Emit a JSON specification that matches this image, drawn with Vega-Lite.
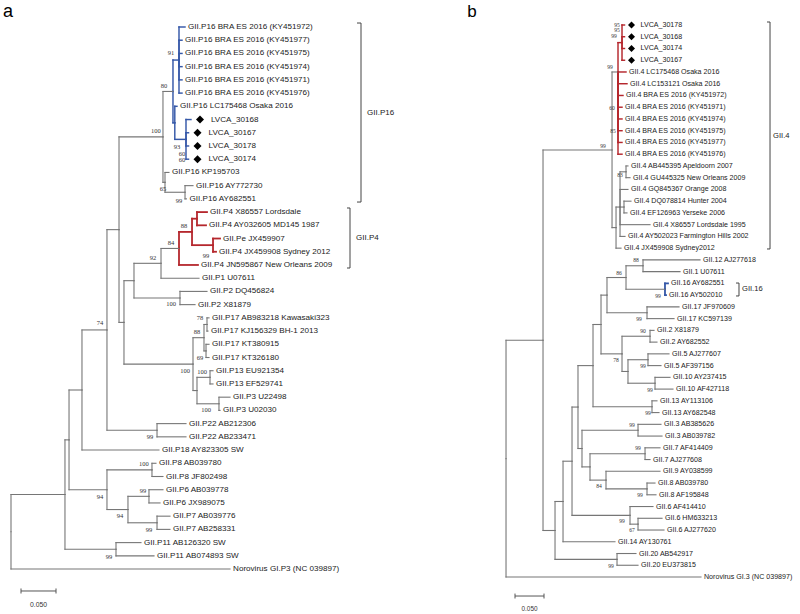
{
"$schema": "https://vega.github.io/schema/vega-lite/v6.json",
"padding": 0,
"spacing": 0,
"bounds": "flush",
"background": "white",
"config": {"view": {"stroke": null}},
"resolve": {"scale": {"x": "independent", "y": "independent", "color": "independent", "strokeWidth": "independent"}},
"datasets": {
"a_edges": [
{"px":0,"py":39.182,"x":0.0771,"y":36.364,"grp":"other"},
{"px":0,"py":39.182,"x":0.3129,"y":42,"grp":"other","label":"Norovirus GI.P3 (NC 039897)"},
{"px":0.0771,"py":36.364,"x":0.0829,"y":32.229,"grp":"other"},
{"px":0.0771,"py":36.364,"x":0.15,"y":40.5,"grp":"other"},
{"px":0.0829,"py":32.229,"x":0.1014,"y":28.457,"grp":"other"},
{"px":0.0829,"py":32.229,"x":0.1371,"y":36,"grp":"other"},
{"px":0.1014,"py":28.457,"x":0.1371,"y":23.914,"grp":"other"},
{"px":0.1014,"py":28.457,"x":0.2114,"y":33,"grp":"other","label":"GII.P18 AY823305 SW"},
{"px":0.1371,"py":23.914,"x":0.1543,"y":16.328,"grp":"other"},
{"px":0.1371,"py":23.914,"x":0.2086,"y":31.5,"grp":"other"},
{"px":0.1543,"py":16.328,"x":0.2171,"y":9.313,"grp":"other"},
{"px":0.1543,"py":16.328,"x":0.1614,"y":23.344,"grp":"other"},
{"px":0.2171,"py":9.313,"x":0.2314,"y":5.875,"grp":"other"},
{"px":0.2171,"py":9.313,"x":0.22,"y":12.75,"grp":"other"},
{"px":0.2314,"py":5.875,"x":0.24,"y":3.5,"grp":"P16"},
{"px":0.2314,"py":5.875,"x":0.234,"y":8.25,"grp":"P16"},
{"px":0.24,"py":3.5,"x":0.2486,"y":1,"grp":"P16","label":"GII.P16 BRA ES 2016 (KY451972)"},
{"px":0.24,"py":3.5,"x":0.2443,"y":2,"grp":"P16","label":"GII.P16 BRA ES 2016 (KY451977)"},
{"px":0.24,"py":3.5,"x":0.2443,"y":3,"grp":"P16","label":"GII.P16 BRA ES 2016 (KY451975)"},
{"px":0.24,"py":3.5,"x":0.2443,"y":4,"grp":"P16","label":"GII.P16 BRA ES 2016 (KY451974)"},
{"px":0.24,"py":3.5,"x":0.2443,"y":5,"grp":"P16","label":"GII.P16 BRA ES 2016 (KY451971)"},
{"px":0.24,"py":3.5,"x":0.2443,"y":6,"grp":"P16","label":"GII.P16 BRA ES 2016 (KY451976)"},
{"px":0.234,"py":8.25,"x":0.2371,"y":7,"grp":"P16","label":"GII.P16 LC175468 Osaka 2016"},
{"px":0.234,"py":8.25,"x":0.25,"y":9.5,"grp":"P16"},
{"px":0.25,"py":9.5,"x":0.2571,"y":8,"grp":"P16","label":"LVCA_30168"},
{"px":0.25,"py":9.5,"x":0.2536,"y":9,"grp":"P16","label":"LVCA_30167"},
{"px":0.25,"py":9.5,"x":0.2536,"y":10,"grp":"P16","label":"LVCA_30178"},
{"px":0.25,"py":9.5,"x":0.2536,"y":11,"grp":"P16","label":"LVCA_30174"},
{"px":0.22,"py":12.75,"x":0.2257,"y":12,"grp":"other","label":"GII.P16 KP195703"},
{"px":0.22,"py":12.75,"x":0.2486,"y":13.5,"grp":"other"},
{"px":0.2486,"py":13.5,"x":0.26,"y":13,"grp":"other","label":"GII.P16 AY772730"},
{"px":0.2486,"py":13.5,"x":0.2507,"y":14,"grp":"other","label":"GII.P16 AY682551"},
{"px":0.1614,"py":23.344,"x":0.1757,"y":20.188,"grp":"other"},
{"px":0.1614,"py":23.344,"x":0.26,"y":26.5,"grp":"other"},
{"px":0.1757,"py":20.188,"x":0.2143,"y":18.875,"grp":"other"},
{"px":0.1757,"py":20.188,"x":0.2414,"y":21.5,"grp":"other"},
{"px":0.2143,"py":18.875,"x":0.24,"y":17.75,"grp":"other"},
{"px":0.2143,"py":18.875,"x":0.2686,"y":20,"grp":"other","label":"GII.P1 U07611"},
{"px":0.24,"py":17.75,"x":0.2586,"y":16.5,"grp":"P4"},
{"px":0.24,"py":17.75,"x":0.2671,"y":19,"grp":"P4","label":"GII.P4 JN595867 New Orleans 2009"},
{"px":0.2586,"py":16.5,"x":0.2657,"y":15.5,"grp":"P4"},
{"px":0.2586,"py":16.5,"x":0.2886,"y":17.5,"grp":"P4"},
{"px":0.2657,"py":15.5,"x":0.28,"y":15,"grp":"P4","label":"GII.P4 X86557 Lordsdale"},
{"px":0.2657,"py":15.5,"x":0.2786,"y":16,"grp":"P4","label":"GII.P4 AY032605 MD145 1987"},
{"px":0.2886,"py":17.5,"x":0.2986,"y":17,"grp":"P4","label":"GII.Pe JX459907"},
{"px":0.2886,"py":17.5,"x":0.2929,"y":18,"grp":"P4","label":"GII.P4 JX459908 Sydney 2012"},
{"px":0.2414,"py":21.5,"x":0.28,"y":21,"grp":"other","label":"GII.P2 DQ456824"},
{"px":0.2414,"py":21.5,"x":0.2629,"y":22,"grp":"other","label":"GII.P2 X81879"},
{"px":0.26,"py":26.5,"x":0.2757,"y":24.5,"grp":"other"},
{"px":0.26,"py":26.5,"x":0.2657,"y":28.5,"grp":"other"},
{"px":0.2757,"py":24.5,"x":0.28,"y":23.5,"grp":"other"},
{"px":0.2757,"py":24.5,"x":0.2786,"y":25.5,"grp":"other"},
{"px":0.28,"py":23.5,"x":0.2829,"y":23,"grp":"other","label":"GII.P17 AB983218 Kawasaki323"},
{"px":0.28,"py":23.5,"x":0.2814,"y":24,"grp":"other","label":"GII.P17 KJ156329 BH-1 2013"},
{"px":0.2786,"py":25.5,"x":0.2829,"y":25,"grp":"other","label":"GII.P17 KT380915"},
{"px":0.2786,"py":25.5,"x":0.2829,"y":26,"grp":"other","label":"GII.P17 KT326180"},
{"px":0.2657,"py":28.5,"x":0.2843,"y":27.5,"grp":"other"},
{"px":0.2657,"py":28.5,"x":0.2971,"y":29.5,"grp":"other"},
{"px":0.2843,"py":27.5,"x":0.2886,"y":27,"grp":"other","label":"GII.P13 EU921354"},
{"px":0.2843,"py":27.5,"x":0.2886,"y":28,"grp":"other","label":"GII.P13 EF529741"},
{"px":0.2971,"py":29.5,"x":0.3129,"y":29,"grp":"other","label":"GII.P3 U22498"},
{"px":0.2971,"py":29.5,"x":0.2986,"y":30,"grp":"other","label":"GII.P3 U02030"},
{"px":0.2086,"py":31.5,"x":0.25,"y":31,"grp":"other","label":"GII.P22 AB212306"},
{"px":0.2086,"py":31.5,"x":0.25,"y":32,"grp":"other","label":"GII.P22 AB233471"},
{"px":0.1371,"py":36,"x":0.2014,"y":34.5,"grp":"other"},
{"px":0.1371,"py":36,"x":0.1671,"y":37.5,"grp":"other"},
{"px":0.2014,"py":34.5,"x":0.2071,"y":34,"grp":"other","label":"GII.P8 AB039780"},
{"px":0.2014,"py":34.5,"x":0.2171,"y":35,"grp":"other","label":"GII.P8 JF802498"},
{"px":0.1671,"py":37.5,"x":0.1971,"y":36.5,"grp":"other"},
{"px":0.1671,"py":37.5,"x":0.2086,"y":38.5,"grp":"other"},
{"px":0.1971,"py":36.5,"x":0.2171,"y":36,"grp":"other","label":"GII.P6 AB039778"},
{"px":0.1971,"py":36.5,"x":0.2129,"y":37,"grp":"other","label":"GII.P6 JX989075"},
{"px":0.2086,"py":38.5,"x":0.2271,"y":38,"grp":"other","label":"GII.P7 AB039776"},
{"px":0.2086,"py":38.5,"x":0.2271,"y":39,"grp":"other","label":"GII.P7 AB258331"},
{"px":0.15,"py":40.5,"x":0.1857,"y":40,"grp":"other","label":"GII.P11 AB126320 SW"},
{"px":0.15,"py":40.5,"x":0.2043,"y":41,"grp":"other","label":"GII.P11 AB074893 SW"}
],
"a_bs": [
{"x":0.2286,"y":2.97,"v":"91"},{"x":0.2186,"y":5.46,"v":"80"},{"x":0.2071,"y":8.87,"v":"100"},
{"x":0.2371,"y":10.08,"v":"93"},{"x":0.2443,"y":10.61,"v":"60"},{"x":0.2443,"y":11.06,"v":"60"},
{"x":0.2171,"y":13.25,"v":"65"},{"x":0.24,"y":14.16,"v":"99"},{"x":0.2471,"y":16.05,"v":"88"},
{"x":0.2286,"y":17.34,"v":"84"},{"x":0.2786,"y":18.32,"v":"99"},{"x":0.2029,"y":18.47,"v":"92"},
{"x":0.2286,"y":21.95,"v":"100"},{"x":0.27,"y":23.01,"v":"78"},{"x":0.2657,"y":24.07,"v":"88"},
{"x":0.27,"y":26.04,"v":"69"},{"x":0.2486,"y":27.02,"v":"100"},{"x":0.2729,"y":27.1,"v":"100"},
{"x":0.2786,"y":29.97,"v":"100"},{"x":0.1271,"y":23.39,"v":"74"},{"x":0.1986,"y":32.01,"v":"99"},
{"x":0.19,"y":34.06,"v":"100"},{"x":0.1271,"y":36.55,"v":"94"},{"x":0.1886,"y":36.1,"v":"99"},
{"x":0.1557,"y":37.99,"v":"94"},{"x":0.1971,"y":39.05,"v":"99"},{"x":0.14,"y":41.09,"v":"99"}
],
"a_br": [
{"name":"GII.P16","x":0.5,"tick":0.4943,"top":0.7,"bottom":14.24,"mid":7.47},
{"name":"GII.P4","x":0.4843,"tick":0.48,"top":14.69,"bottom":19.23,"mid":16.96}
],
"a_sb": [{"x0":0.0143,"x1":0.0643,"y":43.66,"ylo":43.47,"yhi":43.85,"lx":0.0393,"ly":44.72,"label":"0.050"}],
"a_letter": [{"x":-0.0043,"y":-0.135,"t":"a"}],
"b_edges": [
{"px":0,"py":37.92,"x":0.0638,"y":27.84,"grp":"other"},
{"px":0,"py":37.92,"x":0.3362,"y":48,"grp":"other","label":"Norovirus GI.3 (NC 039897)"},
{"px":0.0638,"py":27.84,"x":0.1828,"y":11.64,"grp":"other"},
{"px":0.0638,"py":27.84,"x":0.0845,"y":44.04,"grp":"other"},
{"px":0.1828,"py":11.64,"x":0.1931,"y":5,"grp":"other"},
{"px":0.1828,"py":11.64,"x":0.1897,"y":18.25,"grp":"other"},
{"px":0.1931,"py":5,"x":0.2,"y":2.5,"grp":"GII.4"},
{"px":0.1931,"py":5,"x":0.2069,"y":5,"grp":"GII.4","label":"GII.4 LC175468 Osaka 2016"},
{"px":0.1931,"py":5,"x":0.2086,"y":6,"grp":"GII.4","label":"GII.4 LC153121 Osaka 2016"},
{"px":0.1931,"py":5,"x":0.2017,"y":7,"grp":"GII.4","label":"GII.4 BRA ES 2016 (KY451972)"},
{"px":0.1931,"py":5,"x":0.2,"y":8,"grp":"GII.4","label":"GII.4 BRA ES 2016 (KY451971)"},
{"px":0.1931,"py":5,"x":0.2,"y":9,"grp":"GII.4","label":"GII.4 BRA ES 2016 (KY451974)"},
{"px":0.1931,"py":5,"x":0.2,"y":10,"grp":"GII.4","label":"GII.4 BRA ES 2016 (KY451975)"},
{"px":0.1931,"py":5,"x":0.2,"y":11,"grp":"GII.4","label":"GII.4 BRA ES 2016 (KY451977)"},
{"px":0.1931,"py":5,"x":0.2,"y":12,"grp":"GII.4","label":"GII.4 BRA ES 2016 (KY451976)"},
{"px":0.2,"py":2.5,"x":0.2043,"y":1,"grp":"GII.4","label":"LVCA_30178"},
{"px":0.2,"py":2.5,"x":0.2043,"y":2,"grp":"GII.4","label":"LVCA_30168"},
{"px":0.2,"py":2.5,"x":0.2043,"y":3,"grp":"GII.4","label":"LVCA_30174"},
{"px":0.2,"py":2.5,"x":0.2043,"y":4,"grp":"GII.4","label":"LVCA_30167"},
{"px":0.1897,"py":18.25,"x":0.1966,"y":16.5,"grp":"other"},
{"px":0.1897,"py":18.25,"x":0.1983,"y":20,"grp":"other","label":"GII.4 JX459908 Sydney2012"},
{"px":0.1966,"py":16.5,"x":0.2069,"y":13.5,"grp":"other"},
{"px":0.1966,"py":16.5,"x":0.2103,"y":15,"grp":"other","label":"GII.4 GQ845367 Orange 2008"},
{"px":0.1966,"py":16.5,"x":0.2034,"y":16.5,"grp":"other"},
{"px":0.1966,"py":16.5,"x":0.2483,"y":18,"grp":"other","label":"GII.4 X86557 Lordsdale 1995"},
{"px":0.1966,"py":16.5,"x":0.2052,"y":19,"grp":"other","label":"GII.4 AY502023 Farmington Hills 2002"},
{"px":0.2069,"py":13.5,"x":0.2103,"y":13,"grp":"other","label":"GII.4 AB445395 Apeldoorn 2007"},
{"px":0.2069,"py":13.5,"x":0.2138,"y":14,"grp":"other","label":"GII.4 GU445325 New Orleans 2009"},
{"px":0.2034,"py":16.5,"x":0.2155,"y":16,"grp":"other","label":"GII.4 DQ078814 Hunter 2004"},
{"px":0.2034,"py":16.5,"x":0.2086,"y":17,"grp":"other","label":"GII.4 EF126963 Yerseke 2006"},
{"px":0.0845,"py":44.04,"x":0.0983,"y":41.57,"grp":"other"},
{"px":0.0845,"py":44.04,"x":0.1914,"y":46.5,"grp":"other"},
{"px":0.0983,"py":41.57,"x":0.1138,"y":38.14,"grp":"other"},
{"px":0.0983,"py":41.57,"x":0.1879,"y":45,"grp":"other","label":"GII.14 AY130761"},
{"px":0.1138,"py":38.14,"x":0.1241,"y":33.53,"grp":"other"},
{"px":0.1138,"py":38.14,"x":0.2138,"y":42.75,"grp":"other"},
{"px":0.1241,"py":33.53,"x":0.15,"y":30,"grp":"other"},
{"px":0.1241,"py":33.53,"x":0.131,"y":37.06,"grp":"other"},
{"px":0.15,"py":30,"x":0.1638,"y":26.5,"grp":"other"},
{"px":0.15,"py":30,"x":0.2517,"y":33.5,"grp":"other"},
{"px":0.1638,"py":26.5,"x":0.1741,"y":24,"grp":"other"},
{"px":0.1638,"py":26.5,"x":0.2,"y":29,"grp":"other"},
{"px":0.1741,"py":24,"x":0.2069,"y":22.5,"grp":"other"},
{"px":0.1741,"py":24,"x":0.2431,"y":25.5,"grp":"other"},
{"px":0.2069,"py":22.5,"x":0.2362,"y":21.5,"grp":"other"},
{"px":0.2069,"py":22.5,"x":0.2741,"y":23.5,"grp":"other"},
{"px":0.2362,"py":21.5,"x":0.3345,"y":21,"grp":"other","label":"GII.12 AJ277618"},
{"px":0.2362,"py":21.5,"x":0.3,"y":22,"grp":"other","label":"GII.1 U07611"},
{"px":0.2741,"py":23.5,"x":0.2793,"y":23,"grp":"GII.16","label":"GII.16 AY682551"},
{"px":0.2741,"py":23.5,"x":0.2759,"y":24,"grp":"GII.16","label":"GII.16 AY502010"},
{"px":0.2431,"py":25.5,"x":0.2983,"y":25,"grp":"other","label":"GII.17 JF970609"},
{"px":0.2431,"py":25.5,"x":0.2897,"y":26,"grp":"other","label":"GII.17 KC597139"},
{"px":0.2,"py":29,"x":0.2483,"y":27.5,"grp":"other"},
{"px":0.2,"py":29,"x":0.2103,"y":30.5,"grp":"other"},
{"px":0.2483,"py":27.5,"x":0.2552,"y":27,"grp":"other","label":"GII.2 X81879"},
{"px":0.2483,"py":27.5,"x":0.2603,"y":28,"grp":"other","label":"GII.2 AY682552"},
{"px":0.2103,"py":30.5,"x":0.2448,"y":29.5,"grp":"other"},
{"px":0.2103,"py":30.5,"x":0.2569,"y":31.5,"grp":"other"},
{"px":0.2448,"py":29.5,"x":0.281,"y":29,"grp":"other","label":"GII.5 AJ277607"},
{"px":0.2448,"py":29.5,"x":0.2672,"y":30,"grp":"other","label":"GII.5 AF397156"},
{"px":0.2569,"py":31.5,"x":0.2828,"y":31,"grp":"other","label":"GII.10 AY237415"},
{"px":0.2569,"py":31.5,"x":0.2879,"y":32,"grp":"other","label":"GII.10 AF427118"},
{"px":0.2517,"py":33.5,"x":0.2603,"y":33,"grp":"other","label":"GII.13 AY113106"},
{"px":0.2517,"py":33.5,"x":0.2638,"y":34,"grp":"other","label":"GII.13 AY682548"},
{"px":0.131,"py":37.06,"x":0.2276,"y":35.5,"grp":"other"},
{"px":0.131,"py":37.06,"x":0.1448,"y":38.625,"grp":"other"},
{"px":0.2276,"py":35.5,"x":0.2672,"y":35,"grp":"other","label":"GII.3 AB385626"},
{"px":0.2276,"py":35.5,"x":0.269,"y":36,"grp":"other","label":"GII.3 AB039782"},
{"px":0.1448,"py":38.625,"x":0.2397,"y":37.5,"grp":"other"},
{"px":0.1448,"py":38.625,"x":0.1724,"y":39.75,"grp":"other"},
{"px":0.2397,"py":37.5,"x":0.2655,"y":37,"grp":"other","label":"GII.7 AF414409"},
{"px":0.2397,"py":37.5,"x":0.2483,"y":38,"grp":"other","label":"GII.7 AJ277608"},
{"px":0.1724,"py":39.75,"x":0.2655,"y":39,"grp":"other","label":"GII.9 AY038599"},
{"px":0.1724,"py":39.75,"x":0.2431,"y":40.5,"grp":"other"},
{"px":0.2431,"py":40.5,"x":0.2569,"y":40,"grp":"other","label":"GII.8 AB039780"},
{"px":0.2431,"py":40.5,"x":0.2586,"y":41,"grp":"other","label":"GII.8 AF195848"},
{"px":0.2138,"py":42.75,"x":0.2534,"y":42,"grp":"other","label":"GII.6 AF414410"},
{"px":0.2138,"py":42.75,"x":0.2276,"y":43.5,"grp":"other"},
{"px":0.2276,"py":43.5,"x":0.269,"y":43,"grp":"other","label":"GII.6 HM633213"},
{"px":0.2276,"py":43.5,"x":0.2724,"y":44,"grp":"other","label":"GII.6 AJ277620"},
{"px":0.1914,"py":46.5,"x":0.2241,"y":46,"grp":"other","label":"GII.20 AB542917"},
{"px":0.1914,"py":46.5,"x":0.2276,"y":47,"grp":"other","label":"GII.20 EU373815"}
],
"b_bs": [
{"x":0.1914,"y":1.0,"v":"95"},{"x":0.1914,"y":1.43,"v":"95"},{"x":0.1862,"y":1.94,"v":"99"},
{"x":0.1793,"y":4.58,"v":"99"},{"x":0.1828,"y":8.07,"v":"60"},{"x":0.1845,"y":10.03,"v":"85"},
{"x":0.1672,"y":11.3,"v":"99"},{"x":0.1966,"y":13.77,"v":"83"},{"x":0.2241,"y":21.01,"v":"88"},
{"x":0.1948,"y":22.12,"v":"86"},{"x":0.2621,"y":24.07,"v":"99"},{"x":0.2293,"y":26.03,"v":"99"},
{"x":0.2362,"y":27.05,"v":"90"},{"x":0.1897,"y":29.52,"v":"78"},{"x":0.2362,"y":30.03,"v":"99"},
{"x":0.2483,"y":32.08,"v":"99"},{"x":0.2448,"y":34.04,"v":"99"},{"x":0.2172,"y":35.06,"v":"99"},
{"x":0.2276,"y":37.02,"v":"99"},{"x":0.1603,"y":40.25,"v":"84"},{"x":0.231,"y":41.02,"v":"99"},
{"x":0.2,"y":43.23,"v":"99"},{"x":0.2172,"y":44.0,"v":"67"},{"x":0.181,"y":47.06,"v":"99"}
],
"b_br": [
{"name":"GII.4","x":0.4552,"tick":0.45,"top":0.745,"bottom":20.07,"mid":10.41},
{"name":"GII.16","x":0.4017,"tick":0.3966,"top":22.97,"bottom":24.07,"mid":23.52}
],
"b_sb": [{"x0":0.0155,"x1":0.0655,"y":49.62,"ylo":49.41,"yhi":49.83,"lx":0.0405,"ly":50.72,"label":"0.050"}],
"b_letter": [{"x":-0.0586,"y":-0.107,"t":"b"}]
},
"hconcat": [
{
"width": 400, "height": 614,
"layer": [
{"data": {"name": "a_edges"}, "mark": {"type": "rule", "strokeCap": "square"},
 "encoding": {"x": {"field": "px", "type": "quantitative", "scale": {"domain": [-0.01571, 0.55571], "nice": false, "zero": false}, "axis": null},
  "y": {"field": "py", "type": "quantitative", "scale": {"domain": [-1.042, 45.4], "reverse": true, "nice": false, "zero": false}, "axis": null},
  "y2": {"field": "y"},
  "color": {"field": "grp", "type": "nominal", "scale": {"domain": ["other", "P16", "P4"], "range": ["#767676", "#3558a8", "#b5272d"]}, "legend": null},
  "strokeWidth": {"field": "grp", "type": "ordinal", "scale": {"domain": ["other", "P16", "P4"], "range": [1.1, 1.8, 1.8]}, "legend": null}}},
{"data": {"name": "a_edges"}, "mark": {"type": "rule", "strokeCap": "square"},
 "encoding": {"x": {"field": "px", "type": "quantitative", "scale": {"domain": [-0.01571, 0.55571], "nice": false, "zero": false}, "axis": null},
  "x2": {"field": "x"},
  "y": {"field": "y", "type": "quantitative", "scale": {"domain": [-1.042, 45.4], "reverse": true, "nice": false, "zero": false}, "axis": null},
  "color": {"field": "grp", "type": "nominal", "scale": {"domain": ["other", "P16", "P4"], "range": ["#767676", "#3558a8", "#b5272d"]}, "legend": null},
  "strokeWidth": {"field": "grp", "type": "ordinal", "scale": {"domain": ["other", "P16", "P4"], "range": [1.1, 1.8, 1.8]}, "legend": null}}},
{"data": {"name": "a_edges"}, "transform": [{"filter": "datum.label && indexof(datum.label, 'LVCA') < 0"}],
 "mark": {"type": "text", "align": "left", "baseline": "middle", "dx": 3, "font": "Liberation Sans", "fontSize": 8.1, "color": "#222"},
 "encoding": {"x": {"field": "x", "type": "quantitative", "scale": {"domain": [-0.01571, 0.55571], "nice": false, "zero": false}, "axis": null},
  "y": {"field": "y", "type": "quantitative", "scale": {"domain": [-1.042, 45.4], "reverse": true, "nice": false, "zero": false}, "axis": null},
  "text": {"field": "label"}}},
{"data": {"name": "a_edges"}, "transform": [{"filter": "datum.label && indexof(datum.label, 'LVCA') == 0"}],
 "mark": {"type": "text", "align": "left", "baseline": "middle", "dx": 20, "font": "Liberation Sans", "fontSize": 8.1, "color": "#222"},
 "encoding": {"x": {"field": "x", "type": "quantitative", "scale": {"domain": [-0.01571, 0.55571], "nice": false, "zero": false}, "axis": null},
  "y": {"field": "y", "type": "quantitative", "scale": {"domain": [-1.042, 45.4], "reverse": true, "nice": false, "zero": false}, "axis": null},
  "text": {"field": "label"}}},
{"data": {"name": "a_edges"}, "transform": [{"filter": "datum.label && indexof(datum.label, 'LVCA') == 0"}],
 "mark": {"type": "point", "shape": "diamond", "filled": true, "color": "#000", "opacity": 1, "size": 64, "xOffset": 9},
 "encoding": {"x": {"field": "x", "type": "quantitative", "scale": {"domain": [-0.01571, 0.55571], "nice": false, "zero": false}, "axis": null},
  "y": {"field": "y", "type": "quantitative", "scale": {"domain": [-1.042, 45.4], "reverse": true, "nice": false, "zero": false}, "axis": null}}},
{"data": {"name": "a_bs"},
 "mark": {"type": "text", "align": "center", "baseline": "middle", "font": "Liberation Serif", "fontSize": 6.5, "color": "#333"},
 "encoding": {"x": {"field": "x", "type": "quantitative", "scale": {"domain": [-0.01571, 0.55571], "nice": false, "zero": false}, "axis": null},
  "y": {"field": "y", "type": "quantitative", "scale": {"domain": [-1.042, 45.4], "reverse": true, "nice": false, "zero": false}, "axis": null},
  "text": {"field": "v"}}},
{"data": {"name": "a_br"}, "mark": {"type": "rule", "color": "#444", "strokeWidth": 1},
 "encoding": {"x": {"field": "x", "type": "quantitative", "scale": {"domain": [-0.01571, 0.55571], "nice": false, "zero": false}, "axis": null},
  "y": {"field": "top", "type": "quantitative", "scale": {"domain": [-1.042, 45.4], "reverse": true, "nice": false, "zero": false}, "axis": null},
  "y2": {"field": "bottom"}}},
{"data": {"name": "a_br"}, "mark": {"type": "rule", "color": "#444", "strokeWidth": 1},
 "encoding": {"x": {"field": "tick", "type": "quantitative", "scale": {"domain": [-0.01571, 0.55571], "nice": false, "zero": false}, "axis": null},
  "x2": {"field": "x"},
  "y": {"field": "top", "type": "quantitative", "scale": {"domain": [-1.042, 45.4], "reverse": true, "nice": false, "zero": false}, "axis": null}}},
{"data": {"name": "a_br"}, "mark": {"type": "rule", "color": "#444", "strokeWidth": 1},
 "encoding": {"x": {"field": "tick", "type": "quantitative", "scale": {"domain": [-0.01571, 0.55571], "nice": false, "zero": false}, "axis": null},
  "x2": {"field": "x"},
  "y": {"field": "bottom", "type": "quantitative", "scale": {"domain": [-1.042, 45.4], "reverse": true, "nice": false, "zero": false}, "axis": null}}},
{"data": {"name": "a_br"},
 "mark": {"type": "text", "align": "left", "baseline": "middle", "dx": 6, "font": "Liberation Sans", "fontSize": 8, "color": "#222"},
 "encoding": {"x": {"field": "x", "type": "quantitative", "scale": {"domain": [-0.01571, 0.55571], "nice": false, "zero": false}, "axis": null},
  "y": {"field": "mid", "type": "quantitative", "scale": {"domain": [-1.042, 45.4], "reverse": true, "nice": false, "zero": false}, "axis": null},
  "text": {"field": "name"}}},
{"data": {"name": "a_sb"}, "mark": {"type": "rule", "color": "#555", "strokeWidth": 1},
 "encoding": {"x": {"field": "x0", "type": "quantitative", "scale": {"domain": [-0.01571, 0.55571], "nice": false, "zero": false}, "axis": null},
  "x2": {"field": "x1"},
  "y": {"field": "y", "type": "quantitative", "scale": {"domain": [-1.042, 45.4], "reverse": true, "nice": false, "zero": false}, "axis": null}}},
{"data": {"name": "a_sb"}, "mark": {"type": "rule", "color": "#555", "strokeWidth": 1},
 "encoding": {"x": {"field": "x0", "type": "quantitative", "scale": {"domain": [-0.01571, 0.55571], "nice": false, "zero": false}, "axis": null},
  "y": {"field": "ylo", "type": "quantitative", "scale": {"domain": [-1.042, 45.4], "reverse": true, "nice": false, "zero": false}, "axis": null},
  "y2": {"field": "yhi"}}},
{"data": {"name": "a_sb"}, "mark": {"type": "rule", "color": "#555", "strokeWidth": 1},
 "encoding": {"x": {"field": "x1", "type": "quantitative", "scale": {"domain": [-0.01571, 0.55571], "nice": false, "zero": false}, "axis": null},
  "y": {"field": "ylo", "type": "quantitative", "scale": {"domain": [-1.042, 45.4], "reverse": true, "nice": false, "zero": false}, "axis": null},
  "y2": {"field": "yhi"}}},
{"data": {"name": "a_sb"},
 "mark": {"type": "text", "align": "center", "baseline": "middle", "font": "Liberation Sans", "fontSize": 6.8, "color": "#333"},
 "encoding": {"x": {"field": "lx", "type": "quantitative", "scale": {"domain": [-0.01571, 0.55571], "nice": false, "zero": false}, "axis": null},
  "y": {"field": "ly", "type": "quantitative", "scale": {"domain": [-1.042, 45.4], "reverse": true, "nice": false, "zero": false}, "axis": null},
  "text": {"field": "label"}}},
{"data": {"name": "a_letter"},
 "mark": {"type": "text", "align": "center", "baseline": "middle", "font": "Liberation Sans", "fontSize": 18, "color": "#000"},
 "encoding": {"x": {"field": "x", "type": "quantitative", "scale": {"domain": [-0.01571, 0.55571], "nice": false, "zero": false}, "axis": null},
  "y": {"field": "y", "type": "quantitative", "scale": {"domain": [-1.042, 45.4], "reverse": true, "nice": false, "zero": false}, "axis": null},
  "text": {"field": "t"}}}
]
},
{
"width": 400, "height": 614,
"layer": [
{"data": {"name": "b_edges"}, "mark": {"type": "rule", "strokeCap": "square"},
 "encoding": {"x": {"field": "px", "type": "quantitative", "scale": {"domain": [-0.1828, 0.5069], "nice": false, "zero": false}, "axis": null},
  "y": {"field": "py", "type": "quantitative", "scale": {"domain": [-1.129, 51.15], "reverse": true, "nice": false, "zero": false}, "axis": null},
  "y2": {"field": "y"},
  "color": {"field": "grp", "type": "nominal", "scale": {"domain": ["other", "GII.4", "GII.16"], "range": ["#767676", "#b5272d", "#3558a8"]}, "legend": null},
  "strokeWidth": {"field": "grp", "type": "ordinal", "scale": {"domain": ["other", "GII.4", "GII.16"], "range": [1.1, 1.8, 1.8]}, "legend": null}}},
{"data": {"name": "b_edges"}, "mark": {"type": "rule", "strokeCap": "square"},
 "encoding": {"x": {"field": "px", "type": "quantitative", "scale": {"domain": [-0.1828, 0.5069], "nice": false, "zero": false}, "axis": null},
  "x2": {"field": "x"},
  "y": {"field": "y", "type": "quantitative", "scale": {"domain": [-1.129, 51.15], "reverse": true, "nice": false, "zero": false}, "axis": null},
  "color": {"field": "grp", "type": "nominal", "scale": {"domain": ["other", "GII.4", "GII.16"], "range": ["#767676", "#b5272d", "#3558a8"]}, "legend": null},
  "strokeWidth": {"field": "grp", "type": "ordinal", "scale": {"domain": ["other", "GII.4", "GII.16"], "range": [1.1, 1.8, 1.8]}, "legend": null}}},
{"data": {"name": "b_edges"}, "transform": [{"filter": "datum.label && indexof(datum.label, 'LVCA') < 0"}],
 "mark": {"type": "text", "align": "left", "baseline": "middle", "dx": 3, "font": "Liberation Sans", "fontSize": 7.1, "color": "#222"},
 "encoding": {"x": {"field": "x", "type": "quantitative", "scale": {"domain": [-0.1828, 0.5069], "nice": false, "zero": false}, "axis": null},
  "y": {"field": "y", "type": "quantitative", "scale": {"domain": [-1.129, 51.15], "reverse": true, "nice": false, "zero": false}, "axis": null},
  "text": {"field": "label"}}},
{"data": {"name": "b_edges"}, "transform": [{"filter": "datum.label && indexof(datum.label, 'LVCA') == 0"}],
 "mark": {"type": "text", "align": "left", "baseline": "middle", "dx": 16, "font": "Liberation Sans", "fontSize": 7.1, "color": "#222"},
 "encoding": {"x": {"field": "x", "type": "quantitative", "scale": {"domain": [-0.1828, 0.5069], "nice": false, "zero": false}, "axis": null},
  "y": {"field": "y", "type": "quantitative", "scale": {"domain": [-1.129, 51.15], "reverse": true, "nice": false, "zero": false}, "axis": null},
  "text": {"field": "label"}}},
{"data": {"name": "b_edges"}, "transform": [{"filter": "datum.label && indexof(datum.label, 'LVCA') == 0"}],
 "mark": {"type": "point", "shape": "diamond", "filled": true, "color": "#000", "opacity": 1, "size": 49, "xOffset": 7},
 "encoding": {"x": {"field": "x", "type": "quantitative", "scale": {"domain": [-0.1828, 0.5069], "nice": false, "zero": false}, "axis": null},
  "y": {"field": "y", "type": "quantitative", "scale": {"domain": [-1.129, 51.15], "reverse": true, "nice": false, "zero": false}, "axis": null}}},
{"data": {"name": "b_bs"},
 "mark": {"type": "text", "align": "center", "baseline": "middle", "font": "Liberation Serif", "fontSize": 5.6, "color": "#333"},
 "encoding": {"x": {"field": "x", "type": "quantitative", "scale": {"domain": [-0.1828, 0.5069], "nice": false, "zero": false}, "axis": null},
  "y": {"field": "y", "type": "quantitative", "scale": {"domain": [-1.129, 51.15], "reverse": true, "nice": false, "zero": false}, "axis": null},
  "text": {"field": "v"}}},
{"data": {"name": "b_br"}, "mark": {"type": "rule", "color": "#444", "strokeWidth": 1},
 "encoding": {"x": {"field": "x", "type": "quantitative", "scale": {"domain": [-0.1828, 0.5069], "nice": false, "zero": false}, "axis": null},
  "y": {"field": "top", "type": "quantitative", "scale": {"domain": [-1.129, 51.15], "reverse": true, "nice": false, "zero": false}, "axis": null},
  "y2": {"field": "bottom"}}},
{"data": {"name": "b_br"}, "mark": {"type": "rule", "color": "#444", "strokeWidth": 1},
 "encoding": {"x": {"field": "tick", "type": "quantitative", "scale": {"domain": [-0.1828, 0.5069], "nice": false, "zero": false}, "axis": null},
  "x2": {"field": "x"},
  "y": {"field": "top", "type": "quantitative", "scale": {"domain": [-1.129, 51.15], "reverse": true, "nice": false, "zero": false}, "axis": null}}},
{"data": {"name": "b_br"}, "mark": {"type": "rule", "color": "#444", "strokeWidth": 1},
 "encoding": {"x": {"field": "tick", "type": "quantitative", "scale": {"domain": [-0.1828, 0.5069], "nice": false, "zero": false}, "axis": null},
  "x2": {"field": "x"},
  "y": {"field": "bottom", "type": "quantitative", "scale": {"domain": [-1.129, 51.15], "reverse": true, "nice": false, "zero": false}, "axis": null}}},
{"data": {"name": "b_br"},
 "mark": {"type": "text", "align": "left", "baseline": "middle", "dx": 3, "font": "Liberation Sans", "fontSize": 7.6, "color": "#222"},
 "encoding": {"x": {"field": "x", "type": "quantitative", "scale": {"domain": [-0.1828, 0.5069], "nice": false, "zero": false}, "axis": null},
  "y": {"field": "mid", "type": "quantitative", "scale": {"domain": [-1.129, 51.15], "reverse": true, "nice": false, "zero": false}, "axis": null},
  "text": {"field": "name"}}},
{"data": {"name": "b_sb"}, "mark": {"type": "rule", "color": "#555", "strokeWidth": 1},
 "encoding": {"x": {"field": "x0", "type": "quantitative", "scale": {"domain": [-0.1828, 0.5069], "nice": false, "zero": false}, "axis": null},
  "x2": {"field": "x1"},
  "y": {"field": "y", "type": "quantitative", "scale": {"domain": [-1.129, 51.15], "reverse": true, "nice": false, "zero": false}, "axis": null}}},
{"data": {"name": "b_sb"}, "mark": {"type": "rule", "color": "#555", "strokeWidth": 1},
 "encoding": {"x": {"field": "x0", "type": "quantitative", "scale": {"domain": [-0.1828, 0.5069], "nice": false, "zero": false}, "axis": null},
  "y": {"field": "ylo", "type": "quantitative", "scale": {"domain": [-1.129, 51.15], "reverse": true, "nice": false, "zero": false}, "axis": null},
  "y2": {"field": "yhi"}}},
{"data": {"name": "b_sb"}, "mark": {"type": "rule", "color": "#555", "strokeWidth": 1},
 "encoding": {"x": {"field": "x1", "type": "quantitative", "scale": {"domain": [-0.1828, 0.5069], "nice": false, "zero": false}, "axis": null},
  "y": {"field": "ylo", "type": "quantitative", "scale": {"domain": [-1.129, 51.15], "reverse": true, "nice": false, "zero": false}, "axis": null},
  "y2": {"field": "yhi"}}},
{"data": {"name": "b_sb"},
 "mark": {"type": "text", "align": "center", "baseline": "middle", "font": "Liberation Sans", "fontSize": 6.4, "color": "#333"},
 "encoding": {"x": {"field": "lx", "type": "quantitative", "scale": {"domain": [-0.1828, 0.5069], "nice": false, "zero": false}, "axis": null},
  "y": {"field": "ly", "type": "quantitative", "scale": {"domain": [-1.129, 51.15], "reverse": true, "nice": false, "zero": false}, "axis": null},
  "text": {"field": "label"}}},
{"data": {"name": "b_letter"},
 "mark": {"type": "text", "align": "center", "baseline": "middle", "font": "Liberation Sans", "fontSize": 17, "color": "#000"},
 "encoding": {"x": {"field": "x", "type": "quantitative", "scale": {"domain": [-0.1828, 0.5069], "nice": false, "zero": false}, "axis": null},
  "y": {"field": "y", "type": "quantitative", "scale": {"domain": [-1.129, 51.15], "reverse": true, "nice": false, "zero": false}, "axis": null},
  "text": {"field": "t"}}}
]
}
]
}
